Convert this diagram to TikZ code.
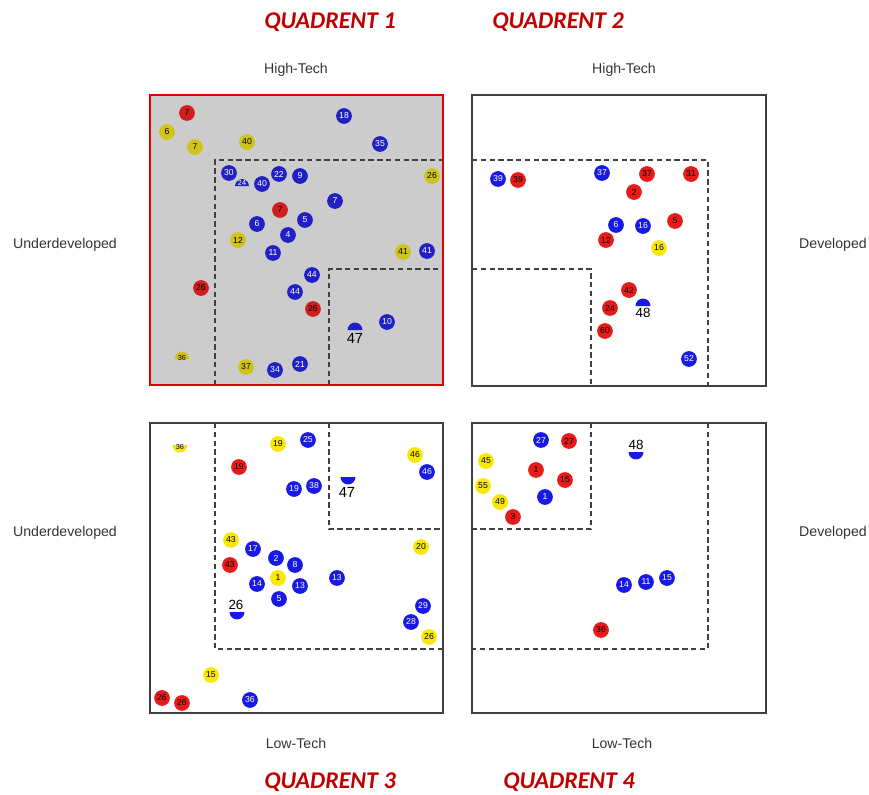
\documentclass[tikz,border=0pt]{standalone}
\usepackage{fontspec}
\setmainfont{Liberation Sans}
\newfontfamily\headfont{Carlito}
\definecolor{dotblue}{RGB}{25,25,228}
\definecolor{dotred}{RGB}{232,26,26}
\definecolor{dotyellow}{RGB}{250,232,0}
\definecolor{q1blue}{RGB}{32,32,196}
\definecolor{q1red}{RGB}{210,30,30}
\definecolor{q1yellow}{RGB}{208,195,25}
\definecolor{panelgray}{RGB}{204,204,204}
\definecolor{headred}{RGB}{192,0,0}
\definecolor{framegray}{RGB}{64,64,64}
\begin{document}
\begin{tikzpicture}[x=0.75pt,y=-0.75pt,
  pt/.style={circle, inner sep=0pt, minimum size=11.8pt, font=\fontsize{6.5}{6.5}\selectfont},
  bdot/.style={pt, fill=dotblue, text=white},
  rdot/.style={pt, fill=dotred, text=black},
  ydot/.style={pt, fill=dotyellow, text=black},
  bdark/.style={pt, fill=q1blue, text=white},
  rdark/.style={pt, fill=q1red, text=black},
  ydark/.style={pt, fill=q1yellow, text=black},
  panel/.style={draw=framegray, line width=1.5pt},
  zone/.style={draw=framegray, line width=1.4pt, dash pattern=on 4pt off 2.6pt},
  axis/.style={font=\fontsize{10.6}{12}\selectfont, text=black!80},
  head/.style={font=\headfont\bfseries\itshape\fontsize{18}{20}\selectfont, text=headred, inner sep=0pt},
  tag/.style={font=\fontsize{11}{11}\selectfont, inner sep=0pt},
  smalltag/.style={font=\fontsize{5.5}{5.5}\selectfont, inner sep=0pt}]
\useasboundingbox (0,0) rectangle (869,794);

% panels
\fill[panelgray] (150,95) rectangle (443,385);

% dashed zones
\draw[zone] (215,385) -- (215,160) -- (443,160);
\draw[zone] (329,385) -- (329,269) -- (443,269);
\draw[zone] (472,160) -- (708,160) -- (708,386);
\draw[zone] (472,269) -- (591,269) -- (591,386);
\draw[zone] (215,423) -- (215,649) -- (443,649);
\draw[zone] (329,423) -- (329,529) -- (443,529);
\draw[zone] (591,423) -- (591,529) -- (472,529);
\draw[zone] (708,423) -- (708,649) -- (472,649);

\draw[draw=red!90!black, line width=1.6pt] (150,95) rectangle (443,385);
\draw[panel] (472,95) rectangle (766,386);
\draw[panel] (150,423) rectangle (443,713);
\draw[panel] (472,423) rectangle (766,713);

% headings and axis labels
\node[head] (h1) at (330,22) {QUADRENT 1};
\node[head] (h2) at (558,22) {QUADRENT 2};
\node[head] (h3) at (330,782) {QUADRENT 3};
\node[head] (h4) at (569,782) {QUADRENT 4};
\node[axis] (ht1) at (296,70) {High-Tech};
\node[axis] (ht2) at (624,70) {High-Tech};
\node[axis] (lt1) at (296,743) {Low-Tech};
\node[axis] (lt2) at (622,743) {Low-Tech};
\node[axis] (ud1) at (65,245) {Underdeveloped};
\node[axis] (ud2) at (65,533) {Underdeveloped};
\node[axis] (dv1) at (833,245) {Developed};
\node[axis] (dv2) at (833,533) {Developed};

% half markers, quadrant 1
\fill[q1blue] ([xshift=-5.2pt]242,186) arc[start angle=180,end angle=0,radius=5.2pt] -- cycle;
\node[smalltag, text=white] (s24) at (242,182.5) {24};
\fill[q1yellow] ([xshift=-5.6pt]182,359) arc[start angle=180,end angle=0,radius=5.6pt] -- cycle;
\node[smalltag] (s36a) at (182,358) {36};
\fill[q1blue] ([xshift=-5.6pt]355,330) arc[start angle=180,end angle=0,radius=5.6pt] -- cycle;
\node[tag] (s47a) at (355,338) {47};

% quadrant 1 points
\foreach \px/\py/\s/\t [count=\i] in {
  187/113/rdark/7, 167/132/ydark/6, 195/147/ydark/7, 247/142/ydark/40,
  344/116/bdark/18, 380/144/bdark/35, 229/173/bdark/30, 262/184/bdark/40,
  279/174/bdark/22, 300/176/bdark/9, 432/176/ydark/26, 335/201/bdark/7,
  280/210/rdark/7, 305/220/bdark/5, 257/224/bdark/6, 288/235/bdark/4,
  238/240/ydark/12, 273/253/bdark/11, 403/252/ydark/41, 427/251/bdark/41,
  312/275/bdark/44, 201/288/rdark/26, 295/292/bdark/44, 313/309/rdark/26,
  387/322/bdark/10, 246/367/ydark/37, 275/370/bdark/34, 300/364/bdark/21}
  \node[\s] (qa\i) at (\px,\py) {\t};

% quadrant 2
\fill[dotblue] ([xshift=-5.6pt]643,306) arc[start angle=180,end angle=0,radius=5.6pt] -- cycle;
\node[tag, font=\fontsize{10}{10}\selectfont] (s48a) at (643,313) {48};
\foreach \px/\py/\s/\t [count=\i] in {
  498/179/bdot/39, 518/180/rdot/39, 602/173/bdot/37, 647/174/rdot/37,
  691/174/rdot/31, 634/192/rdot/2, 616/225/bdot/6, 643/226/bdot/16,
  675/221/rdot/5, 606/240/rdot/12, 659/248/ydot/16, 629/290/rdot/42,
  610/308/rdot/24, 605/331/rdot/60, 689/359/bdot/52}
  \node[\s] (qb\i) at (\px,\py) {\t};

% quadrant 3
\fill[dotyellow] ([xshift=-5.6pt]180,445) arc[start angle=180,end angle=360,radius=5.6pt] -- cycle;
\node[smalltag] (s36b) at (180,447) {36};
\fill[dotblue] ([xshift=-5.6pt]348,477) arc[start angle=180,end angle=360,radius=5.6pt] -- cycle;
\node[tag] (s47b) at (347,492) {47};
\fill[dotblue] ([xshift=-5.6pt]237,612) arc[start angle=180,end angle=360,radius=5.6pt] -- cycle;
\node[tag, font=\fontsize{10}{10}\selectfont] (s26) at (236,605) {26};
\foreach \px/\py/\s/\t [count=\i] in {
  278/444/ydot/19, 308/440/bdot/25, 239/467/rdot/19, 294/489/bdot/19,
  314/486/bdot/38, 415/455/ydot/46, 427/472/bdot/46, 231/540/ydot/43,
  253/549/bdot/17, 276/558/bdot/2, 421/547/ydot/20, 230/565/rdot/43,
  295/565/bdot/8, 278/578/ydot/1, 257/584/bdot/14, 300/586/bdot/13,
  337/578/bdot/13, 279/599/bdot/5, 423/606/bdot/29, 411/622/bdot/28,
  429/637/ydot/26, 211/675/ydot/15, 162/698/rdot/26, 182/703/rdot/26,
  250/700/bdot/36}
  \node[\s] (qc\i) at (\px,\py) {\t};

% quadrant 4
\fill[dotblue] ([xshift=-5.6pt]636,452) arc[start angle=180,end angle=360,radius=5.6pt] -- cycle;
\node[tag, font=\fontsize{10}{10}\selectfont] (s48b) at (636,445) {48};
\foreach \px/\py/\s/\t [count=\i] in {
  541/440/bdot/27, 569/441/rdot/27, 486/461/ydot/45, 536/470/rdot/1,
  565/480/rdot/15, 483/486/ydot/55, 545/497/bdot/1, 500/502/ydot/49,
  513/517/rdot/3, 624/585/bdot/14, 646/582/bdot/11, 667/578/bdot/15,
  601/630/rdot/36}
  \node[\s] (qd\i) at (\px,\py) {\t};
\end{tikzpicture}
\end{document}
